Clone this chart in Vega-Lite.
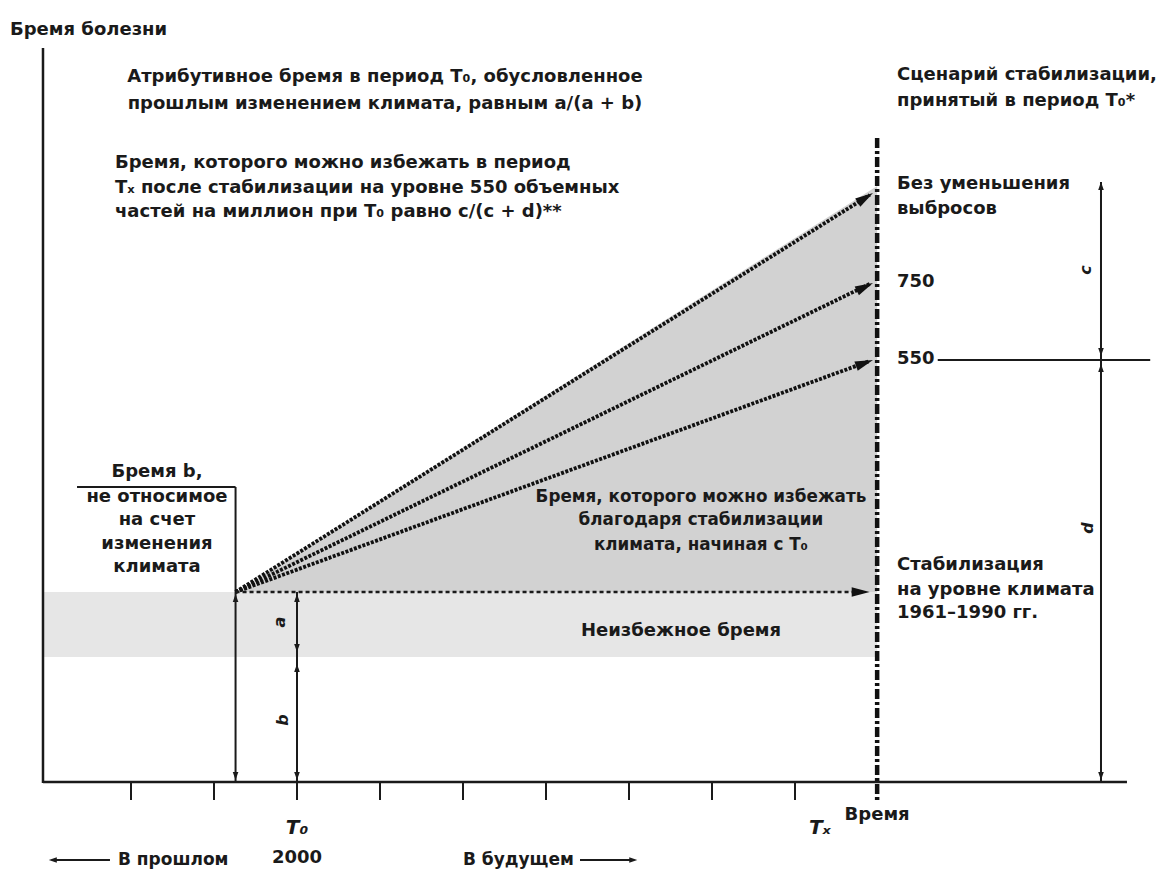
{
  "$schema": "https://vega.github.io/schema/vega-lite/v6.json",
  "width": 1162,
  "height": 870,
  "padding": 0,
  "autosize": {"type": "fit", "contains": "padding"},
  "background": "white",
  "config": {"view": {"stroke": null}},
  "datasets": {
    "band": [{"x": -3.06, "x2": 6.99, "y": 19, "y2": 12.5}],
    "tri": [{"x": -0.74, "y": 19, "y2": 19}, {"x": 6.99, "y": 59.6, "y2": 19}],
    "segs": [
      {"kind": "axis", "x": -3.06, "y": -0.1, "x2": -3.06, "y2": 73.4},
      {"kind": "axis", "x": -3.06, "y": 0, "x2": 10.0, "y2": 0},
      {"kind": "tick", "x": -2, "y": 0, "x2": -2, "y2": -1.8},
      {"kind": "tick", "x": -1, "y": 0, "x2": -1, "y2": -1.8},
      {"kind": "tick", "x": 0, "y": 0, "x2": 0, "y2": -1.8},
      {"kind": "tick", "x": 1, "y": 0, "x2": 1, "y2": -1.8},
      {"kind": "tick", "x": 2, "y": 0, "x2": 2, "y2": -1.8},
      {"kind": "tick", "x": 3, "y": 0, "x2": 3, "y2": -1.8},
      {"kind": "tick", "x": 4, "y": 0, "x2": 4, "y2": -1.8},
      {"kind": "tick", "x": 5, "y": 0, "x2": 5, "y2": -1.8},
      {"kind": "tick", "x": 6, "y": 0, "x2": 6, "y2": -1.8},
      {"kind": "time", "x": 6.99, "y": 64.4, "x2": 6.99, "y2": -1.8},
      {"kind": "ray", "x": -0.74, "y": 19, "x2": 6.9, "y2": 58.7},
      {"kind": "ray", "x": -0.74, "y": 19, "x2": 6.9, "y2": 49.8},
      {"kind": "ray", "x": -0.74, "y": 19, "x2": 6.9, "y2": 42.1},
      {"kind": "hdot", "x": -0.74, "y": 19, "x2": 6.85, "y2": 19},
      {"kind": "thin", "x": -0.74, "y": 19, "x2": -0.74, "y2": 0},
      {"kind": "thin", "x": 0, "y": 19, "x2": 0, "y2": 0},
      {"kind": "thin", "x": 9.687, "y": 60, "x2": 9.687, "y2": 0},
      {"kind": "thin", "x": -2.65, "y": 29.5, "x2": -0.74, "y2": 29.5},
      {"kind": "thin", "x": -0.74, "y": 29.5, "x2": -0.74, "y2": 19},
      {"kind": "thin", "x": 7.72, "y": 42.2, "x2": 10.28, "y2": 42.2},
      {"kind": "thin", "x": -2.95, "y": -7.8, "x2": -2.253, "y2": -7.8},
      {"kind": "thin", "x": 3.41, "y": -7.8, "x2": 4.05, "y2": -7.8}
    ],
    "bigHeads": [
      {"dir": "ray0", "x": 6.94, "y": 58.9},
      {"dir": "ray750", "x": 6.94, "y": 49.9},
      {"dir": "ray550", "x": 6.94, "y": 42.2},
      {"dir": "right", "x": 6.9, "y": 19}
    ],
    "smallHeads": [
      {"dir": "up", "x": -0.74, "y": 18.8},
      {"dir": "down", "x": -0.74, "y": 0.2},
      {"dir": "up", "x": 0, "y": 18.8},
      {"dir": "down", "x": 0, "y": 13.0},
      {"dir": "up", "x": 0, "y": 11.8},
      {"dir": "down", "x": 0, "y": 0.2},
      {"dir": "up", "x": 9.687, "y": 60},
      {"dir": "down", "x": 9.687, "y": 42.6},
      {"dir": "up", "x": 9.687, "y": 41.8},
      {"dir": "down", "x": 9.687, "y": 0.2},
      {"dir": "left", "x": -2.99, "y": -7.8},
      {"dir": "right", "x": 4.1, "y": -7.8}
    ],
    "textL": [
      {"txt": "Бремя болезни", "x": -3.458, "y": 75.2},
      {"txt": "Бремя, которого можно избежать в период", "x": -2.193, "y": 61.9},
      {"txt": "Tₓ после стабилизации на уровне 550 объемных", "x": -2.193, "y": 59.4},
      {"txt": "частей на миллион при T₀ равно c/(c + d)**", "x": -2.193, "y": 57.0},
      {"txt": "Сценарий стабилизации,", "x": 7.229, "y": 70.7},
      {"txt": "принятый в период T₀*", "x": 7.229, "y": 68.1},
      {"txt": "Без уменьшения", "x": 7.229, "y": 59.8},
      {"txt": "выбросов", "x": 7.229, "y": 57.3},
      {"txt": "750", "x": 7.229, "y": 50.0},
      {"txt": "550", "x": 7.229, "y": 42.3},
      {"txt": "Стабилизация", "x": 7.229, "y": 21.7},
      {"txt": "на уровне климата", "x": 7.229, "y": 19.2},
      {"txt": "1961–1990 гг.", "x": 7.229, "y": 16.9}
    ],
    "textC": [
      {"txt": "Атрибутивное бремя в период T₀, обусловленное", "x": 1.06, "y": 70.5},
      {"txt": "прошлым изменением климата, равным a/(a + b)", "x": 1.06, "y": 67.8},
      {"txt": "Бремя b,", "x": -1.687, "y": 31.0},
      {"txt": "не относимое", "x": -1.687, "y": 28.5},
      {"txt": "на счет", "x": -1.687, "y": 26.2},
      {"txt": "изменения", "x": -1.687, "y": 23.8},
      {"txt": "климата", "x": -1.687, "y": 21.5},
      {"txt": "Неизбежное бремя", "x": 4.627, "y": 15.1},
      {"txt": "2000", "x": 0, "y": -7.6},
      {"txt": "Время", "x": 6.99, "y": -3.3}
    ],
    "textC2": [
      {"txt": "Бремя, которого можно избежать", "x": 4.867, "y": 28.5},
      {"txt": "благодаря стабилизации", "x": 4.867, "y": 26.2},
      {"txt": "климата, начиная с T₀", "x": 4.867, "y": 23.7}
    ],
    "textS": [
      {"txt": "В прошлом", "x": -2.157, "y": -7.8},
      {"txt": "В будущем", "x": 2.0, "y": -7.8}
    ],
    "tLabels": [
      {"txt": "T₀", "x": 0, "y": -4.6},
      {"txt": "Tₓ", "x": 6.3, "y": -4.6}
    ],
    "letters": [
      {"txt": "a", "x": -0.205, "y": 16.0},
      {"txt": "b", "x": -0.169, "y": 6.2},
      {"txt": "c", "x": 9.506, "y": 51.2},
      {"txt": "d", "x": 9.53, "y": 25.4}
    ]
  },
  "encoding": {
    "x": {"field": "x", "type": "quantitative", "scale": {"domain": [-3.578, 10.422], "nice": false, "zero": false}, "axis": null},
    "y": {"field": "y", "type": "quantitative", "scale": {"domain": [-8.8, 78.2], "nice": false, "zero": false}, "axis": null}
  },
  "layer": [
    {
      "data": {"name": "band"},
      "mark": {"type": "rect", "color": "#e6e6e6"},
      "encoding": {"x2": {"field": "x2"}, "y2": {"field": "y2"}}
    },
    {
      "data": {"name": "tri"},
      "mark": {"type": "area", "color": "#d2d2d2", "opacity": 1},
      "encoding": {"y2": {"field": "y2"}}
    },
    {
      "data": {"name": "segs"},
      "transform": [{"filter": "datum.kind === 'axis'"}],
      "mark": {"type": "rule", "color": "#1a1a1a", "strokeWidth": 2.5},
      "encoding": {"x2": {"field": "x2"}, "y2": {"field": "y2"}}
    },
    {
      "data": {"name": "segs"},
      "transform": [{"filter": "datum.kind === 'tick'"}],
      "mark": {"type": "rule", "color": "#1a1a1a", "strokeWidth": 2},
      "encoding": {"x2": {"field": "x2"}, "y2": {"field": "y2"}}
    },
    {
      "data": {"name": "segs"},
      "transform": [{"filter": "datum.kind === 'thin'"}],
      "mark": {"type": "rule", "color": "#1a1a1a", "strokeWidth": 2},
      "encoding": {"x2": {"field": "x2"}, "y2": {"field": "y2"}}
    },
    {
      "data": {"name": "segs"},
      "transform": [{"filter": "datum.kind === 'time'"}],
      "mark": {"type": "rule", "color": "#111111", "strokeWidth": 4.5, "strokeDash": [10, 3, 3, 3]},
      "encoding": {"x2": {"field": "x2"}, "y2": {"field": "y2"}}
    },
    {
      "data": {"name": "segs"},
      "transform": [{"filter": "datum.kind === 'ray'"}],
      "mark": {"type": "rule", "color": "#111111", "strokeWidth": 3.8, "strokeDash": [3, 1.5]},
      "encoding": {"x2": {"field": "x2"}, "y2": {"field": "y2"}}
    },
    {
      "data": {"name": "segs"},
      "transform": [{"filter": "datum.kind === 'hdot'"}],
      "mark": {"type": "rule", "color": "#1a1a1a", "strokeWidth": 2.5, "strokeDash": [4, 3]},
      "encoding": {"x2": {"field": "x2"}, "y2": {"field": "y2"}}
    },
    {
      "data": {"name": "bigHeads"},
      "mark": {"type": "point", "shape": "M0,0L0.27,1L-0.27,1Z", "filled": true, "color": "#111111", "opacity": 1, "size": 1296, "strokeWidth": 0},
      "encoding": {
        "angle": {"field": "dir", "type": "nominal", "scale": {"type": "ordinal", "domain": ["up", "down", "left", "right", "ray0", "ray750", "ray550"], "range": [0, 180, 270, 90, 57.9, 64.1, 70.0]}, "legend": null}
      }
    },
    {
      "data": {"name": "smallHeads"},
      "mark": {"type": "point", "shape": "M0,0L0.35,1L-0.35,1Z", "filled": true, "color": "#1a1a1a", "opacity": 1, "size": 256, "strokeWidth": 0},
      "encoding": {
        "angle": {"field": "dir", "type": "nominal", "scale": {"type": "ordinal", "domain": ["up", "down", "left", "right", "ray0", "ray750", "ray550"], "range": [0, 180, 270, 90, 57.9, 64.1, 70.0]}, "legend": null}
      }
    },
    {
      "data": {"name": "textL"},
      "mark": {"type": "text", "font": "DejaVu Sans", "fontWeight": "bold", "fontSize": 18, "align": "left", "baseline": "middle", "color": "#1a1a1a"},
      "encoding": {"text": {"field": "txt"}}
    },
    {
      "data": {"name": "textC"},
      "mark": {"type": "text", "font": "DejaVu Sans", "fontWeight": "bold", "fontSize": 18, "align": "center", "baseline": "middle", "color": "#1a1a1a"},
      "encoding": {"text": {"field": "txt"}}
    },
    {
      "data": {"name": "textC2"},
      "mark": {"type": "text", "font": "DejaVu Sans", "fontWeight": "bold", "fontSize": 16.8, "align": "center", "baseline": "middle", "color": "#1a1a1a"},
      "encoding": {"text": {"field": "txt"}}
    },
    {
      "data": {"name": "textS"},
      "mark": {"type": "text", "font": "DejaVu Sans", "fontWeight": "bold", "fontSize": 17, "align": "left", "baseline": "middle", "color": "#1a1a1a"},
      "encoding": {"text": {"field": "txt"}}
    },
    {
      "data": {"name": "tLabels"},
      "mark": {"type": "text", "font": "DejaVu Sans", "fontWeight": "bold", "fontStyle": "italic", "fontSize": 20, "align": "center", "baseline": "middle", "color": "#1a1a1a"},
      "encoding": {"text": {"field": "txt"}}
    },
    {
      "data": {"name": "letters"},
      "mark": {"type": "text", "font": "DejaVu Sans", "fontWeight": "bold", "fontStyle": "italic", "fontSize": 16, "align": "center", "baseline": "middle", "angle": 270, "color": "#1a1a1a"},
      "encoding": {"text": {"field": "txt"}}
    }
  ]
}
